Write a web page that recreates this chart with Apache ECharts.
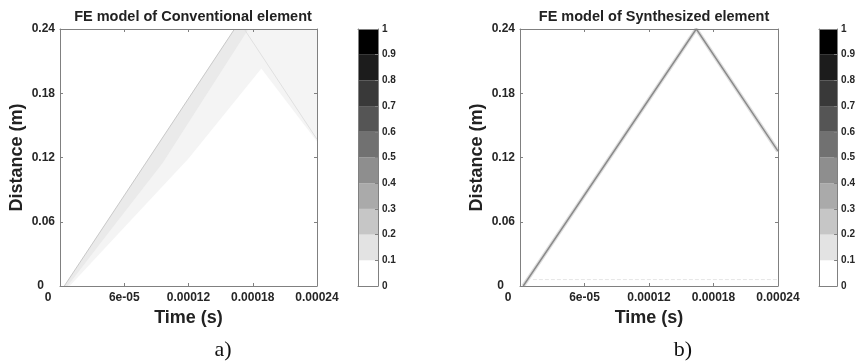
<!DOCTYPE html>
<html>
<head>
<meta charset="utf-8">
<script src="https://cdn.jsdelivr.net/npm/echarts@6/dist/echarts.min.js"></script>
<style>
  html, body { margin: 0; padding: 0; background: #fff; }
  #chart { width: 858px; height: 363px; }
</style>
</head>
<body>
<div id="chart"></div>
<script>
// axis ticks
const xTicks = [0, 6e-5, 1.2e-4, 1.8e-4, 2.4e-4];
const xTickLabels = ['0', '6e-05', '0.00012', '0.00018', '0.00024'];
const yTicks = [0, 0.06, 0.12, 0.18, 0.24];
const yTickLabels = ['0', '0.06', '0.12', '0.18', '0.24'];
const cbTickLabels = ['0', '0.1', '0.2', '0.3', '0.4', '0.5', '0.6', '0.7', '0.8', '0.9', '1'];

// colorbar bands (bottom -> top)
const cbLevels = [0.1, 0.1, 0.1, 0.1, 0.1, 0.1, 0.1, 0.1, 0.1, 0.1];
const cbColors = ['#ffffff', '#e3e3e3', '#c6c6c6', '#aaaaaa', '#8e8e8e',
                  '#717171', '#555555', '#393939', '#1c1c1c', '#000000'];

// a) conventional element: dispersive wave band [time, distance]
const convBand = [[5e-6, 0], [1.63e-4, 0.24], [2.4e-4, 0.24], [2.4e-4, 0.135],
                  [1.88e-4, 0.203], [1.2e-4, 0.119], [6.2e-5, 0.057], [9e-6, 0]];
const convCore = [[4e-6, 0], [1.63e-4, 0.24], [1.76e-4, 0.24], [9.6e-5, 0.115],
                  [4.4e-5, 0.048], [7e-6, 0]];
const convFront = [[4e-6, 0], [1.63e-4, 0.24]];
const convReflect = [[1.72e-4, 0.24], [2.4e-4, 0.137]];

// b) synthesized element: sharp wave front
const synthPath = [[3e-6, 0], [1.64e-4, 0.24], [2.4e-4, 0.126]];
const synthNoise = [[1.2e-5, 0.006], [2.4e-4, 0.006]];

const font = "'Liberation Sans', Arial, sans-serif";
const frame = '#808080';
const labelColor = '#262626';

const chart = echarts.init(document.getElementById('chart'));

function fmtX(v) {
  const i = xTicks.findIndex(t => Math.abs(t - v) < 1e-9);
  if (i === 0) return '{z|0}';
  return i < 0 ? '' : xTickLabels[i];
}
function fmtY(v) {
  const i = yTicks.findIndex(t => Math.abs(t - v) < 1e-9);
  if (i === 0) return '{z|0}';
  return i < 0 ? '' : yTickLabels[i];
}

const tickLabel = {
  fontFamily: font, fontSize: 12, fontWeight: 'bold', color: labelColor
};
const nameStyle = {
  fontFamily: font, fontSize: 18, fontWeight: 'bold', color: '#222'
};
const titleStyle = {
  fontFamily: font, fontSize: 14.5, fontWeight: 'bold', color: '#222'
};
const capStyle = {
  fontFamily: "'Liberation Serif', 'Times New Roman', serif",
  fontSize: 22, fontWeight: 'normal', color: '#111'
};

function plotX(grid, pos) {
  return {
    type: 'value', gridIndex: grid, position: pos,
    min: 0, max: 2.4e-4, interval: 6e-5, z: 5,
    axisLine: { show: true, onZero: false, lineStyle: { color: frame, width: 1 } },
    axisTick: { show: true, inside: true, length: 3, lineStyle: { color: frame } },
    splitLine: { show: false },
    axisLabel: pos === 'bottom' ? Object.assign({
      margin: 6, showMinLabel: true, showMaxLabel: true, formatter: fmtX,
      rich: { z: Object.assign({ padding: [0, 24, 0, 0] }, tickLabel) }
    }, tickLabel) : { show: false },
    name: pos === 'bottom' ? 'Time (s)' : '',
    nameLocation: 'middle', nameGap: 21, nameTextStyle: nameStyle
  };
}
function plotY(grid, pos) {
  return {
    type: 'value', gridIndex: grid, position: pos,
    min: 0, max: 0.24, interval: 0.06, z: 5,
    axisLine: { show: true, onZero: false, lineStyle: { color: frame, width: 1 } },
    axisTick: { show: true, inside: true, length: 3, lineStyle: { color: frame } },
    splitLine: { show: false },
    axisLabel: pos === 'left' ? Object.assign({
      margin: 5, showMinLabel: true, showMaxLabel: true, formatter: fmtY,
      rich: { z: Object.assign({ padding: [0, 11, 0, 0] }, tickLabel) }
    }, tickLabel) : { show: false },
    name: pos === 'left' ? 'Distance (m)' : '',
    nameLocation: 'middle', nameGap: 34, nameTextStyle: nameStyle
  };
}
function cbX(grid, pos) {
  return {
    type: 'category', gridIndex: grid, position: pos, data: ['c'], z: 5,
    boundaryGap: true,
    axisLine: { show: true, onZero: false, lineStyle: { color: frame } },
    axisTick: { show: false }, axisLabel: { show: false }, splitLine: { show: false }
  };
}
function cbY(grid, pos) {
  return {
    type: 'value', gridIndex: grid, position: pos, min: 0, max: 1, interval: 0.1, z: 5,
    axisLine: { show: true, onZero: false, lineStyle: { color: frame } },
    axisTick: { show: pos === 'right', inside: true, length: 3, lineStyle: { color: frame } },
    splitLine: { show: false },
    axisLabel: pos === 'right' ? {
      margin: 4, showMinLabel: true, showMaxLabel: true,
      fontFamily: font, fontSize: 10, fontWeight: 'bold', color: labelColor,
      formatter: v => cbTickLabels[Math.round(v * 10)]
    } : { show: false }
  };
}

function polygon(xi, yi, pts, color) {
  return {
    type: 'custom', xAxisIndex: xi, yAxisIndex: yi, silent: true, clip: true,
    data: [[0, 0]],
    renderItem: (params, api) => ({
      type: 'polygon',
      shape: { points: pts.map(p => api.coord(p)) },
      style: { fill: color }
    })
  };
}
function line(xi, yi, pts, color, width, type) {
  return {
    type: 'line', xAxisIndex: xi, yAxisIndex: yi, data: pts,
    symbol: 'none', silent: true, clip: true,
    lineStyle: { color: color, width: width, type: type || 'solid' }
  };
}
function colorbar(xi, yi) {
  return cbLevels.map((v, i) => ({
    type: 'bar', xAxisIndex: xi, yAxisIndex: yi, stack: 'cb' + xi,
    data: [v], barWidth: '100%', silent: true,
    itemStyle: { color: cbColors[i] }
  }));
}

const option = {
  animation: false,
  backgroundColor: '#ffffff',
  title: [
    { text: 'FE model of Conventional element', left: 188, top: 4, textAlign: 'center', textStyle: titleStyle },
    { text: 'FE model of Synthesized element', left: 649, top: 4, textAlign: 'center', textStyle: titleStyle },
    { text: 'a)', left: 218, top: 334, textAlign: 'center', textStyle: capStyle },
    { text: 'b)', left: 678, top: 334, textAlign: 'center', textStyle: capStyle }
  ],
  grid: [
    { left: 60, top: 29, width: 257, height: 257 },
    { left: 358, top: 29, width: 20, height: 257 },
    { left: 520, top: 29, width: 258, height: 257 },
    { left: 819, top: 29, width: 20, height: 257 }
  ],
  xAxis: [
    plotX(0, 'bottom'), plotX(0, 'top'),
    cbX(1, 'bottom'), cbX(1, 'top'),
    plotX(2, 'bottom'), plotX(2, 'top'),
    cbX(3, 'bottom'), cbX(3, 'top')
  ],
  yAxis: [
    plotY(0, 'left'), plotY(0, 'right'),
    cbY(1, 'left'), cbY(1, 'right'),
    plotY(2, 'left'), plotY(2, 'right'),
    cbY(3, 'left'), cbY(3, 'right')
  ],
  series: [
    polygon(0, 0, convBand, '#f4f4f4'),
    polygon(0, 0, convCore, '#eaeaea'),
    line(0, 0, convFront, '#c8c8c8', 1),
    line(0, 0, convReflect, '#e0e0e0', 1),
    ...colorbar(2, 2),
    line(4, 4, synthNoise, '#e6e6e6', 1, 'dashed'),
    line(4, 4, synthPath, '#dddddd', 4),
    line(4, 4, synthPath, '#8a8a8a', 1.4),
    ...colorbar(6, 6)
  ]
};

chart.setOption(option);
window.addEventListener('resize', () => chart.resize());
</script>
</body>
</html>
